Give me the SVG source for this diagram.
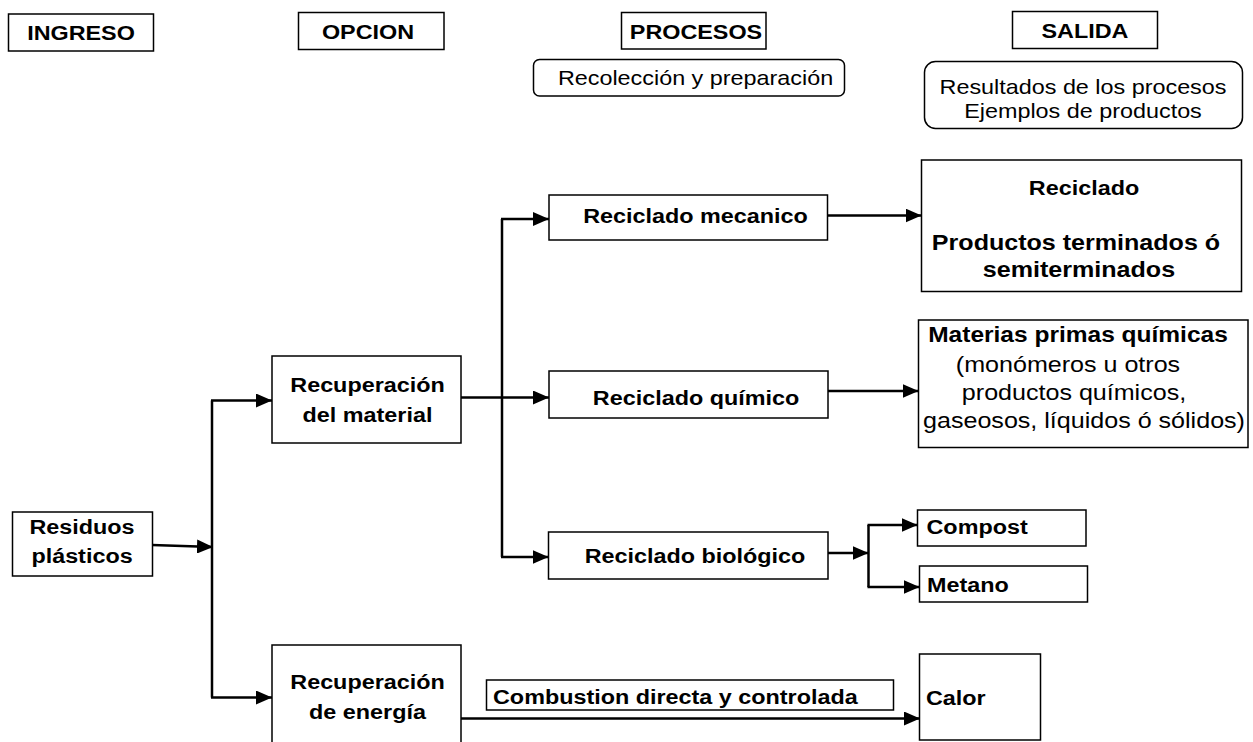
<svg xmlns="http://www.w3.org/2000/svg" width="1253" height="742" viewBox="0 0 1253 742">
<style>
  .box { fill: #ffffff; stroke: #000000; stroke-width: 1.5; }
  .rbox { fill: #ffffff; stroke: #000000; stroke-width: 1.5; }
  .t { font-family: "Liberation Sans", Arial, sans-serif; font-size: 20.5px; fill: #000000; }
  .b { font-weight: bold; }
  .m { text-anchor: middle; }
  .s { text-anchor: start; }
  .big { font-size: 22px; }
  .mid { font-size: 21.5px; }
  .conn line { stroke: #000000; stroke-width: 2.5; fill: none; }
</style>
<defs>
  <marker id="ah" markerUnits="userSpaceOnUse" markerWidth="16" markerHeight="14" refX="16" refY="7" orient="auto">
    <path d="M0,0 L16,7 L0,14 z" fill="#000000"/>
  </marker>
</defs>
<rect x="0" y="0" width="1253" height="742" fill="#ffffff"/>

<g id="hdr-ingreso">
  <rect class="box" x="8.5" y="14" width="145" height="37"/>
  <text class="t b m" transform="translate(81,40) scale(1.14,1)">INGRESO</text>
</g>
<g id="hdr-opcion">
  <rect class="box" x="298.5" y="12.5" width="145.5" height="37"/>
  <text class="t b m" transform="translate(368,38.5) scale(1.14,1)">OPCION</text>
</g>
<g id="hdr-procesos">
  <rect class="box" x="621.5" y="12.5" width="144.5" height="36.5"/>
  <text class="t b m" transform="translate(696,39) scale(1.14,1)">PROCESOS</text>
</g>
<g id="hdr-salida">
  <rect class="box" x="1012.5" y="11.5" width="145" height="37"/>
  <text class="t b m" transform="translate(1085,38) scale(1.14,1)">SALIDA</text>
</g>
<g id="sub-recoleccion">
  <rect class="rbox" x="533.5" y="59.5" width="311" height="36.5" rx="6" ry="6"/>
  <text class="t m" transform="translate(695.5,84.5) scale(1.14,1)">Recolección y preparación</text>
</g>
<g id="sub-resultados">
  <rect class="rbox" x="924.5" y="61.5" width="318" height="67" rx="11" ry="11"/>
  <text class="t m" transform="translate(1083,93.5) scale(1.14,1)">Resultados de los procesos</text>
  <text class="t m" transform="translate(1083,118) scale(1.14,1)">Ejemplos de productos</text>
</g>

<g id="connectors" class="conn">
  <line x1="152" y1="545" x2="213" y2="547" marker-end="url(#ah)"/>
  <line x1="212" y1="400.5" x2="212" y2="697.5"/>
  <line x1="211" y1="400.5" x2="272" y2="400.5" marker-end="url(#ah)"/>
  <line x1="211" y1="697.5" x2="272" y2="697.5" marker-end="url(#ah)"/>
  <line x1="461" y1="397.5" x2="549" y2="397.5" marker-end="url(#ah)"/>
  <line x1="502" y1="219" x2="502" y2="557"/>
  <line x1="501" y1="219" x2="549" y2="219" marker-end="url(#ah)"/>
  <line x1="501" y1="557" x2="548.5" y2="557" marker-end="url(#ah)"/>
  <line x1="828" y1="215.5" x2="921.5" y2="215.5" marker-end="url(#ah)"/>
  <line x1="828" y1="391" x2="918.5" y2="391" marker-end="url(#ah)"/>
  <line x1="828" y1="553" x2="868.5" y2="553" marker-end="url(#ah)"/>
  <line x1="868.5" y1="525" x2="868.5" y2="587"/>
  <line x1="867.5" y1="525" x2="917.5" y2="525" marker-end="url(#ah)"/>
  <line x1="867.5" y1="587" x2="919.5" y2="587" marker-end="url(#ah)"/>
  <line x1="461" y1="718.5" x2="920" y2="718.5" marker-end="url(#ah)"/>
</g>

<g id="n-residuos">
  <rect class="box" x="12.5" y="512" width="140" height="64"/>
  <text class="t b m" transform="translate(82,534) scale(1.14,1)">Residuos</text>
  <text class="t b m" transform="translate(82,563) scale(1.14,1)">plásticos</text>
</g>
<g id="n-rec-material">
  <rect class="box" x="272" y="356" width="189" height="87"/>
  <text class="t b m" transform="translate(367.5,392) scale(1.14,1)">Recuperación</text>
  <text class="t b m" transform="translate(367.5,422) scale(1.14,1)">del material</text>
</g>
<g id="n-rec-energia">
  <rect class="box" x="272" y="645" width="189" height="110"/>
  <text class="t b m" transform="translate(367.5,689) scale(1.14,1)">Recuperación</text>
  <text class="t b m" transform="translate(367.5,719) scale(1.14,1)">de energía</text>
</g>
<g id="n-mecanico">
  <rect class="box" x="549" y="195" width="278.5" height="45"/>
  <text class="t b m" transform="translate(695.5,222.5) scale(1.14,1)">Reciclado mecanico</text>
</g>
<g id="n-quimico">
  <rect class="box" x="549" y="371" width="279" height="47"/>
  <text class="t b m" transform="translate(696,405) scale(1.14,1)">Reciclado químico</text>
</g>
<g id="n-biologico">
  <rect class="box" x="548.5" y="532" width="279.5" height="47"/>
  <text class="t b m" transform="translate(695,563) scale(1.14,1)">Reciclado biológico</text>
</g>
<g id="n-reciclado">
  <rect class="box" x="921.5" y="160" width="320" height="131.5"/>
  <text class="t b m" transform="translate(1084,195) scale(1.14,1)">Reciclado</text>
  <text class="t b m big" transform="translate(1076,250) scale(1.14,1)">Productos terminados ó</text>
  <text class="t b m big" transform="translate(1079,277) scale(1.14,1)">semiterminados</text>
</g>
<g id="n-materias">
  <rect class="box" x="918.5" y="320" width="329.5" height="127.5"/>
  <text class="t b m mid" transform="translate(1078,342) scale(1.14,1)">Materias primas químicas</text>
  <text class="t m big" transform="translate(1068,372) scale(1.14,1)">(monómeros u otros</text>
  <text class="t m big" transform="translate(1074,400) scale(1.14,1)">productos químicos,</text>
  <text class="t m big" transform="translate(1084,428) scale(1.14,1)">gaseosos, líquidos ó sólidos)</text>
</g>
<g id="n-compost">
  <rect class="box" x="917.5" y="510" width="168.5" height="36"/>
  <text class="t b s" transform="translate(926.5,533.5) scale(1.14,1)">Compost</text>
</g>
<g id="n-metano">
  <rect class="box" x="919.5" y="566" width="168" height="36"/>
  <text class="t b s" transform="translate(927,592) scale(1.14,1)">Metano</text>
</g>
<g id="n-combustion">
  <rect class="box" x="486.5" y="680" width="407" height="30"/>
  <text class="t b s" transform="translate(493,704) scale(1.14,1)">Combustion directa y controlada</text>
</g>
<g id="n-calor">
  <rect class="box" x="919.5" y="654" width="121" height="86"/>
  <text class="t b s" transform="translate(926,705) scale(1.14,1)">Calor</text>
</g>
</svg>
